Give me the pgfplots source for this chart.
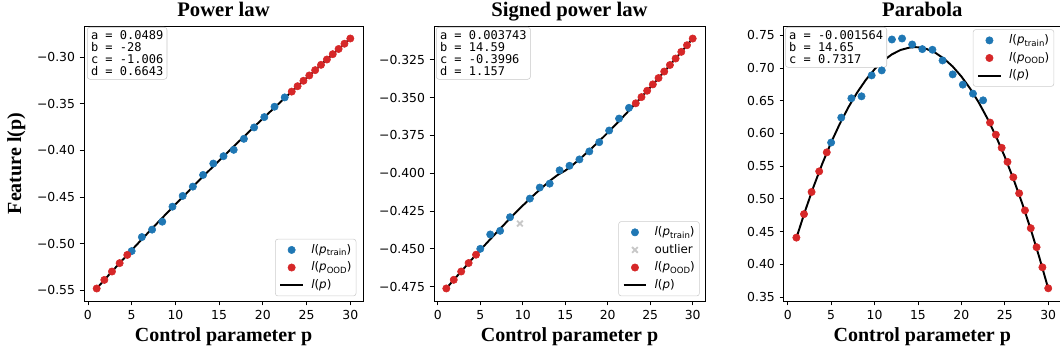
\documentclass[border=0pt]{standalone}
\usepackage{fontspec}
\setmainfont{Liberation Serif}
\newfontfamily\dejavu{DejaVu Sans}
\newfontfamily\dejavumono{DejaVu Sans Mono}
\usepackage{pgfplots}
\pgfplotsset{compat=1.18}
\definecolor{tabblue}{HTML}{1F77B4}
\definecolor{tabred}{HTML}{D62728}
\definecolor{outl}{HTML}{C8C8C8}
\newcommand{\lsub}[1]{\raisebox{-0.4ex}{\fontsize{6.4}{6.4}\selectfont #1}}
\newcommand{\ltrain}{{\itshape l}({\itshape p}\lsub{train})}
\newcommand{\lood}{{\itshape l}({\itshape p}\lsub{OOD})}
\newcommand{\lp}{{\itshape l}({\itshape p})}
\tikzset{boxst/.style={draw=black!22, fill=white, rounded corners=2pt, anchor=north west, align=left,
    font=\dejavumono\fontsize{9}{9}\selectfont, inner xsep=2.8pt, inner ysep=2.6pt}}
\pgfplotsset{
  myaxis/.style={
    scale only axis,
    height=206.25pt,
    anchor=north west,
    xmin=-0.45, xmax=31.45,
    xtick={0,5,10,15,20,25,30},
    xticklabels={0,5,10,15,20,25,30},
    tick pos=left,
    tick align=outside,
    major tick length=3.2pt,
    tick style={black, line width=0.6pt},
    axis line style={line width=0.6pt},
    ticklabel style={font=\dejavu\fontsize{9.3}{11}\selectfont},
    title style={font=\bfseries\fontsize{15.5}{18}\selectfont, at={(0.5,1)}, anchor=base, yshift=1.1pt},
    xlabel style={font=\bfseries\fontsize{15}{18}\selectfont, at={(axis description cs:0.5,0)}, anchor=base, yshift=-30.5pt},
    xlabel={Control parameter p},
    legend style={font=\dejavu\fontsize{8.9}{10}\selectfont, draw=black!20, rounded corners=2pt,
      inner xsep=3pt, inner ysep=2.5pt,
      nodes={inner sep=0.5pt, text height=7.5pt, text depth=2.7pt},
      row sep=2pt,
      /tikz/every odd column/.append style={column sep=5pt}},
    legend cell align=left,
  },
  trainst/.style={only marks, mark=*, mark size=2.75pt, color=tabblue, mark options={draw=tabblue, fill=tabblue}},
  oodst/.style={only marks, mark=*, mark size=2.75pt, color=tabred, mark options={draw=tabred, fill=tabred}},
  linest/.style={no marks, black, line width=1.45pt},
}
\begin{document}
\begin{tikzpicture}
% ---------------- Panel 1: Power law
\begin{axis}[myaxis, at={(63pt,-19.5pt)}, width=209.25pt,
  ymin=-0.5615, ymax=-0.2668,
  ytick={-0.55,-0.50,-0.45,-0.40,-0.35,-0.30},
  yticklabels={−0.55,−0.50,−0.45,−0.40,−0.35,−0.30},
  title={Power law},
  ylabel={Feature l(p)},
  ylabel style={font=\bfseries\fontsize{15}{18}\selectfont, at={(axis description cs:-0.2258,0.5)}, anchor=base},
  legend style={at={(axis description cs:1,0)}, anchor=south east, xshift=-5pt, yshift=3.6pt},
]
\addplot[trainst] coordinates {
(5,-0.508) (6.1667,-0.493) (7.3333,-0.485) (8.5,-0.4765) (9.6667,-0.4604) (10.8333,-0.4489)
(12,-0.4389) (13.1667,-0.4264) (14.3333,-0.4142) (15.5,-0.4063) (16.6667,-0.3995) (17.8333,-0.3877)
(19,-0.3755) (20.1667,-0.3644) (21.3333,-0.3533) (22.5,-0.3433)};
\addlegendentry{\ltrain}
\addplot[oodst] coordinates {
(1,-0.5481) (1.875,-0.5389) (2.75,-0.5299) (3.625,-0.5209) (4.5,-0.5121)
(23.3,-0.3371) (23.97,-0.3313) (24.64,-0.3255) (25.31,-0.3198) (25.98,-0.3141) (26.65,-0.3084)
(27.32,-0.3027) (27.99,-0.2970) (28.66,-0.2914) (29.33,-0.2858) (30,-0.2802)};
\addlegendentry{\lood}
\addplot[linest] coordinates {
(1,-0.5481) (2,-0.5376) (3,-0.5273) (4,-0.5171) (5,-0.5070) (6,-0.4970) (7,-0.4871) (8,-0.4773)
(9,-0.4676) (10,-0.4580) (11,-0.4485) (12,-0.4390) (13,-0.4296) (14,-0.4203) (15,-0.4111)
(16,-0.4019) (17,-0.3928) (18,-0.3839) (19,-0.3749) (20,-0.3659) (21,-0.3572) (22,-0.3484)
(23,-0.3397) (24,-0.3310) (25,-0.3224) (26,-0.3139) (27,-0.3054) (28,-0.2969) (29,-0.2886) (30,-0.2802)};
\addlegendentry{\lp}
\node[boxst] at (rel axis cs:0.0108,0.9964) {a = 0.0489\\b = -28\\c = -1.006\\d = 0.6643};
\end{axis}
% ---------------- Panel 2: Signed power law
\begin{axis}[myaxis, at={(325.5pt,-19.5pt)}, width=203.25pt,
  ymin=-0.4845, ymax=-0.3027,
  ytick={-0.475,-0.450,-0.425,-0.400,-0.375,-0.350,-0.325},
  yticklabels={−0.475,−0.450,−0.425,−0.400,−0.375,−0.350,−0.325},
  title={Signed power law},
  legend style={at={(axis description cs:1,0)}, anchor=south east, xshift=-4pt, yshift=3.6pt},
]
\addplot[trainst] coordinates {
(5,-0.4500) (6.1667,-0.4405) (7.3333,-0.4381) (8.5,-0.4291) (10.8333,-0.4168)
(12,-0.4095) (13.1667,-0.4069) (14.3333,-0.3981) (15.5,-0.3951) (16.6667,-0.3909) (17.8333,-0.3856)
(19,-0.3795) (20.1667,-0.3718) (21.3333,-0.3639) (22.5,-0.3568)};
\addlegendentry{\ltrain}
\addplot[only marks, mark=x, mark size=3pt, color=outl, mark options={line width=1.4pt}] coordinates {(9.6667,-0.4333)};
\addlegendentry{outlier}
\addplot[oodst] coordinates {
(1,-0.4762) (1.875,-0.4705) (2.75,-0.4650) (3.625,-0.4594) (4.5,-0.4539)
(23.3,-0.3538) (23.97,-0.3497) (24.64,-0.3455) (25.31,-0.3413) (25.98,-0.3371) (26.65,-0.3328)
(27.32,-0.3285) (27.99,-0.3242) (28.66,-0.3198) (29.33,-0.3154) (30,-0.3110)};
\addlegendentry{\lood}
\addplot[linest] coordinates {
(1,-0.4762) (2,-0.4697) (3,-0.4634) (4,-0.4570) (5,-0.4508) (6,-0.4447) (7,-0.4387) (8,-0.4328)
(9,-0.4270) (10,-0.4214) (11,-0.4160) (12,-0.4109) (13,-0.4060) (13.5,-0.4037) (14,-0.4016)
(14.3,-0.4005) (14.59,-0.3996) (14.9,-0.3986) (15,-0.3983) (15.7,-0.3954) (16,-0.3940)
(17,-0.3892) (18,-0.3841) (19,-0.3788) (20,-0.3732) (21,-0.3675) (22,-0.3616) (23,-0.3556)
(24,-0.3495) (25,-0.3433) (26,-0.3370) (27,-0.3306) (28,-0.3241) (29,-0.3176) (30,-0.3110)};
\addlegendentry{\lp}
\node[boxst] at (rel axis cs:0.0074,0.9964) {a = 0.003743\\b = 14.59\\c = -0.3996\\d = 1.157};
\end{axis}
% ---------------- Panel 3: Parabola
\begin{axis}[myaxis, at={(587.85pt,-19.5pt)}, width=207.75pt,
  ymin=0.344, ymax=0.764,
  ytick={0.35,0.40,0.45,0.50,0.55,0.60,0.65,0.70,0.75},
  yticklabels={0.35,0.40,0.45,0.50,0.55,0.60,0.65,0.70,0.75},
  title={Parabola},
  legend style={at={(axis description cs:1,1)}, anchor=north east, xshift=-5pt, yshift=-2.5pt},
]
\addplot[trainst] coordinates {
(5,0.5860) (6.1667,0.6241) (7.3333,0.6536) (8.5,0.6566) (9.6667,0.6886) (10.8333,0.6962)
(12,0.7434) (13.1667,0.7449) (14.3333,0.7358) (15.5,0.7287) (16.6667,0.7277) (17.8333,0.7114)
(19,0.6901) (20.1667,0.6744) (21.3333,0.6607) (22.5,0.6505)};
\addlegendentry{\ltrain}
\addplot[oodst] coordinates {
(1,0.4408) (1.875,0.4767) (2.75,0.5105) (3.625,0.5420) (4.5,0.5710)
(23.3,0.6165) (23.97,0.5980) (24.64,0.5780) (25.31,0.5565) (25.98,0.5330) (26.65,0.5085)
(27.32,0.4824) (27.99,0.4552) (28.66,0.4262) (29.33,0.3955) (30,0.3634)};
\addlegendentry{\lood}
\addplot[linest] coordinates {
(1,0.4403) (2,0.4814) (3,0.5194) (4,0.5543) (5,0.5861) (6,0.6147) (7,0.6402) (8,0.6625)
(9,0.6818) (10,0.6979) (11,0.7109) (12,0.7207) (13,0.7274) (14,0.7310) (14.65,0.7317)
(15,0.7315) (16,0.7289) (17,0.7231) (18,0.7141) (19,0.7021) (20,0.6869) (21,0.6686)
(22,0.6472) (23,0.6227) (24,0.5950) (25,0.5642) (26,0.5302) (27,0.4932) (28,0.4530)
(29,0.4096) (30,0.3632)};
\addlegendentry{\lp}
\node[boxst] at (rel axis cs:0.0047,0.9964) {a = -0.001564\\b = 14.65\\c = 0.7317};
\end{axis}
\pgfresetboundingbox
\path[use as bounding box] (0pt,0pt) rectangle (795pt,-265.5pt);
\end{tikzpicture}
\end{document}
